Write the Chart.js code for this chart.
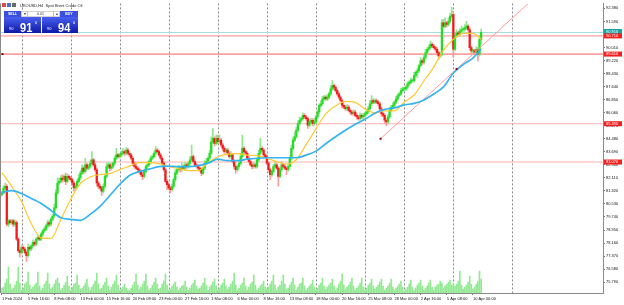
<!DOCTYPE html>
<html>
<head>
<meta charset="utf-8">
<title>UKOUSD H4</title>
<script src="https://cdn.jsdelivr.net/npm/chart.js@4/dist/chart.umd.min.js"></script>
<style>
  html,body{margin:0;padding:0;background:#fff}
  #wrap{width:624px;height:305px;position:relative;overflow:hidden}
</style>
</head>
<body>
<div id="wrap"><canvas id="c" width="624" height="305"></canvas></div>
<script>
// UKOUSD (Brent) H4, 1 Feb - 10 Apr 2024, six bars per trading day

const firstOpen = 81.1;
const closes = [
  81.2,81.5,81.6,79.3,79.5,79.4, 79.5,79.3,79.4,78.4,77.7,77.6,
  77.9,77.8,77.6,77.4,77.9,77.8, 78.0,78.2,78.1,78.4,78.5,78.4, 78.7,78.9,79.0,79.2,79.4,79.3,
  79.6,79.8,80.3,81.2,81.8,81.9, 82.1,82.0,82.2,81.9,82.2,82.1,
  82.0,81.8,81.5,81.6,81.9,82.1, 82.4,82.7,82.5,82.9,82.7,82.8, 83.0,83.2,82.9,82.6,81.8,81.6,
  81.5,81.3,81.6,82.2,82.8,82.9, 82.7,82.8,83.0,83.3,83.5,83.4,
  83.5,83.6,83.7,83.6,83.8,83.6, 83.5,83.3,83.0,82.8,82.7,82.6, 82.5,82.3,82.2,82.5,82.8,82.9,
  83.1,83.3,83.4,83.6,83.8,83.7, 83.5,83.3,83.0,82.6,81.9,81.7,
  81.5,81.4,81.6,82.0,82.4,82.6, 82.7,82.6,82.8,82.7,82.9,82.8, 83.0,83.2,83.4,83.1,82.9,82.8,
  82.7,82.6,82.4,82.7,83.0,83.1, 83.3,83.6,84.3,84.5,84.2,84.5,
  84.3,84.4,84.1,83.9,83.7,83.8, 83.6,83.4,83.5,83.1,82.8,82.6, 82.8,83.0,83.4,83.9,83.7,83.6,
  83.3,83.1,82.9,82.8,82.9,82.8, 83.2,83.6,83.9,83.8,83.5,83.4,
  83.0,82.6,82.3,82.5,82.8,82.9, 82.7,82.2,82.6,82.9,82.8,82.7, 82.6,82.8,83.3,83.9,84.4,84.6,
  85.0,85.4,85.6,85.7,85.9,85.8, 85.7,85.3,85.5,85.6,85.4,85.5,
  85.8,86.1,86.5,86.6,86.9,87.0, 86.9,87.0,87.2,87.5,87.7,87.6, 87.4,87.2,87.0,86.8,86.5,86.4,
  86.3,86.4,86.2,86.1,86.0,86.1, 85.9,85.8,85.7,85.9,85.8,85.9,
  86.0,86.1,86.3,86.6,86.8,86.7, 86.8,86.7,86.6,86.3,86.0,85.9, 85.6,85.5,85.8,86.2,86.4,86.5,
  86.7,86.9,87.1,87.2,87.4,87.5,
  87.5,87.6,87.8,87.9,88.0,88.0, 88.3,88.5,88.6,88.9,89.2,89.1, 89.4,89.7,89.9,90.0,90.2,90.1,
  90.0,89.9,89.7,89.5,89.6,91.5, 91.3,91.5,91.4,91.6,91.9,92.0,
  89.9,90.7,90.9,90.8,91.0,91.1, 91.1,91.2,91.3,91.1,90.0,89.8, 89.8,89.7,89.9,89.6,90.5,90.92
];
const upWick = [
  .1,.15,.2,.1,.1,.1, .1,.1,.15,.1,.1,.1,
  .15,.1,.1,.1,.2,.1, .1,.15,.1,.1,.15,.1, .1,.1,.15,.1,.15,.1,
  .1,.1,.2,.2,.3,.2, .15,.2,.1,.2,.15,.1,
  .1,.1,.1,.15,.1,.2, .15,.2,.1,.4,.1,.15, .2,.5,.1,.1,.1,.1,
  .1,.1,.15,.1,.2,.15, .1,.2,.1,.15,.4,.1,
  .1,.15,.2,.1,.15,.1, .1,.1,.1,.1,.15,.1, .1,.1,.15,.1,.1,.2,
  .1,.15,.1,.1,.2,.1, .1,.1,.1,.1,.1,.1,
  .1,.1,.15,.1,.2,.1, .15,.1,.2,.1,.15,.1, .1,.2,.7,.1,.1,.1,
  .1,.1,.1,.1,.15,.2, .1,.2,.3,.6,.1,.2,
  .2,.3,.1,.1,.1,.1, .1,.1,.2,.1,.1,.1, .1,.1,.2,.8,.1,.1,
  .1,.1,.1,.1,.15,.1, .1,.2,.6,.1,.1,.1,
  .1,.1,.1,.1,.15,.2, .1,.1,.15,.2,.1,.1, .1,.1,.15,.2,.2,.3,
  .2,.15,.2,.1,.15,.1, .1,.1,.15,.1,.1,.2,
  .1,.15,.1,.2,.15,.1, .1,.15,.1,.2,.3,.1, .1,.1,.1,.1,.1,.1,
  .1,.15,.1,.1,.1,.15, .1,.1,.1,.15,.1,.1,
  .1,.1,.15,.2,.3,.1, .1,.1,.1,.1,.1,.1, .1,.1,.15,.2,.1,.15,
  .1,.15,.1,.1,.15,.1,
  .1,.1,.15,.1,.15,.1, .2,.1,.15,.1,.2,.1, .15,.2,.1,.15,.2,.1,
  .1,.1,.1,.1,.1,.2, .2,.3,.1,.2,.2,.45,
  .2,.15,.2,.1,.15,.2, .1,.2,.3,.1,.1,.1, .1,.1,.15,.1,.2,.2
];
const dnWick = [
  .1,.1,.1,.1,.15,.1, .1,.15,.1,.1,.1,.3,
  .1,.1,.1,.35,.1,.1, .1,.1,.15,.1,.1,.1, .1,.1,.1,.1,.1,.15,
  .1,.1,.1,.1,.1,.1, .1,.15,.1,.2,.1,.1,
  .1,.15,.2,.1,.1,.1, .1,.1,.15,.1,.1,.1, .1,.1,.1,.1,.2,.15,
  .1,.25,.1,.1,.1,.1, .15,.1,.1,.1,.1,.1,
  .1,.1,.1,.15,.1,.1, .1,.1,.15,.1,.1,.15, .15,.1,.2,.1,.1,.1,
  .1,.1,.1,.1,.1,.1, .1,.1,.1,.1,.1,.3,
  .1,.2,.1,.1,.1,.1, .1,.15,.1,.1,.1,.1, .1,.1,.1,.1,.1,.1,
  .1,.1,.15,.1,.1,.1, .1,.1,.1,.1,.15,.1,
  .1,.1,.1,.15,.1,.1, .1,.1,.1,.1,.15,.2, .1,.1,.1,.1,.1,.1,
  .1,.1,.1,.15,.1,.1, .1,.1,.1,.1,.1,.1,
  .1,.15,.3,.1,.1,.1, .1,.6,.1,.1,.1,.1, .3,.1,.1,.1,.1,.1,
  .1,.1,.1,.1,.1,.1, .1,.2,.1,.1,.15,.1,
  .1,.1,.1,.1,.1,.1, .1,.1,.1,.1,.1,.15, .1,.1,.1,.1,.15,.1,
  .1,.1,.1,.15,.1,.1, .1,.15,.1,.1,.1,.1,
  .1,.1,.1,.1,.1,.1, .1,.1,.1,.1,.15,.1, .2,.25,.1,.1,.1,.1,
  .1,.1,.1,.1,.1,.1,
  .1,.1,.1,.1,.1,.1, .1,.1,.3,.1,.1,.15, .1,.1,.1,.1,.1,.1,
  .1,.1,.15,.2,.1,.1, .1,.1,.15,.1,.1,.1,
  .5,.1,.1,.1,.1,.1, .1,.1,.1,.1,.15,.2, .1,.15,.1,.4,.1,.3
];
// tick volume (thousands)
const volumes = [
  5,6,10,14,26,9, 4,5,8,12,26,10,
  3,5,9,11,21,8, 4,6,8,10,21,7, 3,5,9,12,20,9,
  4,6,9,13,15,10, 3,5,8,11,17,7,
  3,6,9,10,18,8, 4,5,7,10,14,6, 3,6,9,12,20,9,
  4,5,8,11,15,7, 3,6,9,12,18,8,
  3,4,6,9,5,3, 3,5,8,11,19,8, 4,6,9,12,19,7,
  3,5,8,11,15,9, 4,5,9,12,19,8,
  3,4,7,9,11,6, 3,5,7,8,12,6, 3,5,8,10,13,7,
  4,5,7,10,15,8, 3,6,8,11,14,7,
  3,5,8,10,14,7, 4,6,9,12,20,8, 3,5,8,10,15,7,
  3,6,9,11,18,8, 3,5,7,9,12,6,
  4,6,9,12,18,8, 3,6,8,12,18,9, 4,5,8,11,15,8,
  3,6,9,10,15,7, 3,5,7,9,13,6,
  3,5,8,10,15,7, 4,6,8,10,14,7, 3,5,9,12,19,8,
  4,6,8,11,15,7, 3,5,7,10,15,6,
  3,5,8,10,14,7, 4,6,8,11,14,7, 3,5,7,10,14,6,
  3,5,7,9,12,6,
  2,4,6,9,13,6, 3,5,8,10,13,7, 3,5,7,10,13,6,
  3,6,8,9,12,10, 5,7,9,11,13,8,
  9,7,9,12,22,8, 4,6,8,11,17,9, 4,6,9,12,22,14
];

// moving averages, read once per trading day (bar index of day start)
const maIdx = [0,6,12,18,24,30,36,42,48,54,60,66,72,78,84,90,96,102,108,114,120,126,132,138,144,150,
  156,162,168,174,180,186,192,198,204,210,216,222,228,234,240,246,252,258,264,270,276,282,288,293];
const maFast = [82.43,81.59,80.68,79.33,78.48,78.45,79.59,80.80,81.77,82.16,82.31,82.37,82.61,82.82,83.03,83.03,
  82.97,82.79,82.67,82.55,82.55,83.03,83.39,83.55,83.58,83.49,83.46,83.30,83.09,82.94,83.21,84.12,85.08,85.99,
  86.47,86.74,86.68,86.29,86.05,86.17,86.17,86.71,87.13,87.98,88.82,89.85,90.51,90.87,90.87,90.51];
const maSlow = [81.22,81.34,81.16,80.86,80.56,80.14,79.69,79.60,79.54,79.90,80.38,81.04,81.71,82.25,82.49,82.64,
  82.79,82.82,82.79,82.79,82.85,83.00,83.24,83.15,83.15,83.24,83.30,83.33,83.33,83.33,83.33,83.49,83.73,84.18,
  84.60,84.99,85.36,85.66,86.02,86.26,86.35,86.53,86.62,86.83,87.19,87.62,88.46,88.97,89.37,89.91];

// horizontal levels, bid and trend line anchors
const hLevels = [90.71, 89.61, 85.39, 83.07];
const bidPrice = 90.916;
const trendX = [231.5, 278];
const trendY = [84.48, 88.70];

const xLabelIdx = [0,16,32,48,64,80,96,112,128,144,160,176,192,208,224,240,256,272,288];
const xLabels = ['1 Feb 2024','5 Feb 16:00','8 Feb 08:00','13 Feb 00:00','15 Feb 16:00','20 Feb 08:00',
  '23 Feb 00:00','27 Feb 16:00','1 Mar 08:00','6 Mar 00:00','8 Mar 16:00','13 Mar 08:00','18 Mar 00:00',
  '20 Mar 16:00','25 Mar 08:00','28 Mar 00:00','2 Apr 16:00','5 Apr 08:00','10 Apr 00:00'];
const weekIdx = [12,42,72,102,132,162,192,222,246,276,312];
const yTicks = [92.380,91.590,90.800,90.010,89.220,88.430,87.640,86.850,86.060,85.270,84.480,
  83.690,82.900,82.110,81.320,80.530,79.740,78.950,78.160,77.370,76.580,75.790];

const xMin = -0.55, xMax = 367.5;
const yMin = 75.135, yMax = 92.68;

const GREEN = '#22dd22', RED = '#ee1c1c';
const GREEN_W = '#8ee88e', RED_W = '#ff9a9a';
const lineColors = ['#ff8c8c', '#ff5a5a', '#ffb0b0', '#ffb0b0'];

document.addEventListener('DOMContentLoaded', () => {
  Chart.defaults.font.family = '"Liberation Sans", Arial, sans-serif';
  initChart();
});

function initChart(){
  const opens = closes.map((c,i) => i ? closes[i-1] : firstOpen);
  const up = closes.map((c,i) => c >= opens[i]);
  const highs = closes.map((c,i) => Math.max(opens[i], c) + upWick[i]);
  const lows = closes.map((c,i) => Math.min(opens[i], c) - dnWick[i]);

  // ray through the two anchors, to the top edge
  const slope = (trendY[1]-trendY[0]) / (trendX[1]-trendX[0]);
  const rayX = Math.min(xMax, trendX[1] + (yMax - trendY[1]) / slope);
  const rayY = trendY[1] + (rayX - trendX[1]) * slope;

  const hlineSets = hLevels.map((p,k) => ({
    type:'line', data:[{x:xMin,y:p},{x:xMax,y:p}], borderColor:lineColors[k], borderWidth:1,
    pointRadius:0, order:20
  }));

  const datasets = [
    { type:'bar', yAxisID:'yv', data:volumes.map((v,i)=>({x:i,y:v})), backgroundColor:'#93e993',
      barThickness:1, grouped:false, order:30 },
    { type:'line', data:[{x:xMin,y:bidPrice},{x:xMax,y:bidPrice}], borderColor:'#a6dede', borderWidth:1, pointRadius:0, order:21 },
    ...hlineSets,
    { type:'bar', data:closes.map((c,i)=>({x:i,y:[lows[i],highs[i]]})),
      backgroundColor:up.map(u=>u?GREEN_W:RED_W), barThickness:1, grouped:false, order:6 },
    { type:'bar', data:closes.map((c,i)=>({x:i,y:[opens[i],c]})),
      backgroundColor:up.map(u=>u?GREEN:RED), barThickness:1.6, minBarLength:1, grouped:false, order:5 },
    { type:'line', data:[{x:trendX[0],y:trendY[0]},{x:rayX,y:rayY}], borderColor:'#ff9c9c', borderWidth:1, pointRadius:0, order:3 },
    { type:'line', data:maIdx.map((x,k)=>({x,y:maFast[k]})), borderColor:'#ffc933', borderWidth:1.2,
      pointRadius:0, cubicInterpolationMode:'monotone', order:2 },
    { type:'line', data:maIdx.map((x,k)=>({x,y:maSlow[k]})), borderColor:'#35b4ef', borderWidth:1.7,
      pointRadius:0, cubicInterpolationMode:'monotone', order:1 }
  ];

  const deco = {
    id:'deco',
    beforeDatasetsDraw(chart){
      const {ctx, chartArea:a, scales:{x}} = chart;
      ctx.save();
      ctx.strokeStyle = '#8a8a8a'; ctx.lineWidth = 1; ctx.setLineDash([2,2]);
      weekIdx.forEach(i => {
        const px = Math.round(x.getPixelForValue(i)) + 0.5;
        ctx.beginPath(); ctx.moveTo(px, a.top); ctx.lineTo(px, a.bottom); ctx.stroke();
      });
      ctx.restore();
    },
    afterDatasetsDraw(chart){
      const {ctx, scales:{x,y}} = chart;
      ctx.save();
      ctx.fillStyle = '#8b0000';
      trendX.forEach((tx,k) => ctx.fillRect(x.getPixelForValue(tx)-1, y.getPixelForValue(trendY[k])-1, 2, 2));
      ctx.fillRect(1.5, y.getPixelForValue(hLevels[1])-1, 2, 2);
      ctx.restore();
    },
    afterDraw(chart){
      const {ctx, chartArea:a, scales:{y}} = chart;
      ctx.save();
      ctx.strokeStyle = '#8a8a8a'; ctx.lineWidth = 1;
      ctx.beginPath(); ctx.moveTo(0.5, a.top); ctx.lineTo(0.5, a.bottom); ctx.stroke();
      drawBox(ctx, a.right, y.getPixelForValue(bidPrice)-1, '#19a3a3', bidPrice.toFixed(3));
      hLevels.forEach(p => drawBox(ctx, a.right, y.getPixelForValue(p), '#f21f1f', p.toFixed(3)));
      drawPanel(ctx);
      ctx.restore();
    }
  };

  new Chart(document.getElementById('c'), {
    type:'bar',
    data:{ datasets },
    options:{
      responsive:false, animation:false, devicePixelRatio:1,
      layout:{ padding:{ top:2, left:1, right:0, bottom:0 } },
      plugins:{ legend:{display:false}, tooltip:{enabled:false} },
      scales:{
        x:{ type:'linear', min:xMin, max:xMax, offset:false,
            afterBuildTicks:s=>{ s.ticks = xLabelIdx.map(v=>({value:v})); },
            afterFit:s=>{ s.height = 12; },
            ticks:{ autoSkip:false, maxRotation:0, align:'start', padding:1, font:{size:4}, color:'#111',
                    callback:(v,i)=>xLabels[i] },
            grid:{ drawOnChartArea:false, offset:false, tickLength:2, color:'#777' },
            border:{ color:'#8a8a8a' } },
        y:{ position:'right', min:yMin, max:yMax,
            afterBuildTicks:s=>{ s.ticks = yTicks.map(v=>({value:v})); },
            afterFit:s=>{ s.width = 21; },
            ticks:{ autoSkip:false, padding:1, font:{size:4}, color:'#111', callback:v=>Number(v).toFixed(3) },
            grid:{ drawOnChartArea:false, tickLength:2, color:'#777' },
            border:{ color:'#8a8a8a' } },
        yv:{ display:false, min:0, max:290 }
      }
    },
    plugins:[deco]
  });
}

function drawBox(ctx, left, py, color, text){
  ctx.fillStyle = color;
  ctx.fillRect(left+1, py-2.5, 18, 5);
  ctx.fillStyle = '#fff';
  ctx.font = '4px "Liberation Sans"';
  ctx.textAlign = 'left'; ctx.textBaseline = 'middle';
  ctx.fillText(text, left+3, py+0.2);
}

function drawPanel(ctx){
  // title line
  ctx.fillStyle = '#e04848'; ctx.fillRect(2,3,4,4);
  ctx.fillStyle = '#4a6fd0'; ctx.fillRect(7,3,4,4);
  ctx.fillStyle = '#6a6a6a'; ctx.fillRect(12,3,4,4);
  ctx.fillStyle = '#222';
  ctx.font = '4px "Liberation Sans"'; ctx.textAlign = 'left'; ctx.textBaseline = 'middle';
  ctx.fillText('UKOUSD,H4  Spot Brent Crude Oil', 20, 5.5);

  // one click trading row
  ctx.fillStyle = '#3a4fdc'; ctx.fillRect(4,11,17,6); ctx.fillRect(60,11,18,6);
  ctx.fillStyle = '#fff'; ctx.fillRect(21,11,39,6);
  ctx.strokeStyle = '#b5b5b5'; ctx.lineWidth = 0.6;
  ctx.strokeRect(21.3,11.3,6.4,5.4); ctx.strokeRect(27.7,11.3,25.6,5.4); ctx.strokeRect(53.3,11.3,6.4,5.4);
  ctx.textAlign = 'center'; ctx.font = 'bold 3.5px "Liberation Sans"'; ctx.fillStyle = '#fff';
  ctx.fillText('SELL', 12.5, 14.2); ctx.fillText('BUY', 69, 14.2);
  ctx.fillStyle = '#333'; ctx.font = '3.5px "Liberation Sans"';
  ctx.fillText('\u25BE', 24.5, 14.2); ctx.fillText('0.01', 40.5, 14.2); ctx.fillText('\u25B4', 56.5, 14.2);

  // bid / ask boxes
  [[4,37,'91'],[42,36,'94']].forEach(([bx,bw,big]) => {
    const g = ctx.createLinearGradient(0,17,0,33);
    g.addColorStop(0,'#4a5ff0'); g.addColorStop(1,'#0c17a8');
    ctx.fillStyle = g; ctx.fillRect(bx,17,bw,16);
    ctx.fillStyle = '#fff'; ctx.textAlign = 'left'; ctx.textBaseline = 'alphabetic';
    ctx.font = '4px "Liberation Sans"'; ctx.fillText('90', bx+5, 29.5);
    ctx.save(); ctx.translate(bx+16, 31.5); ctx.scale(0.85,1);
    ctx.font = 'bold 13px "Liberation Sans"'; ctx.fillText(big, 0, 0); ctx.restore();
    ctx.font = '4px "Liberation Sans"'; ctx.fillText('6', bx+31, 23.5);
  });
}
</script>
</body>
</html>
